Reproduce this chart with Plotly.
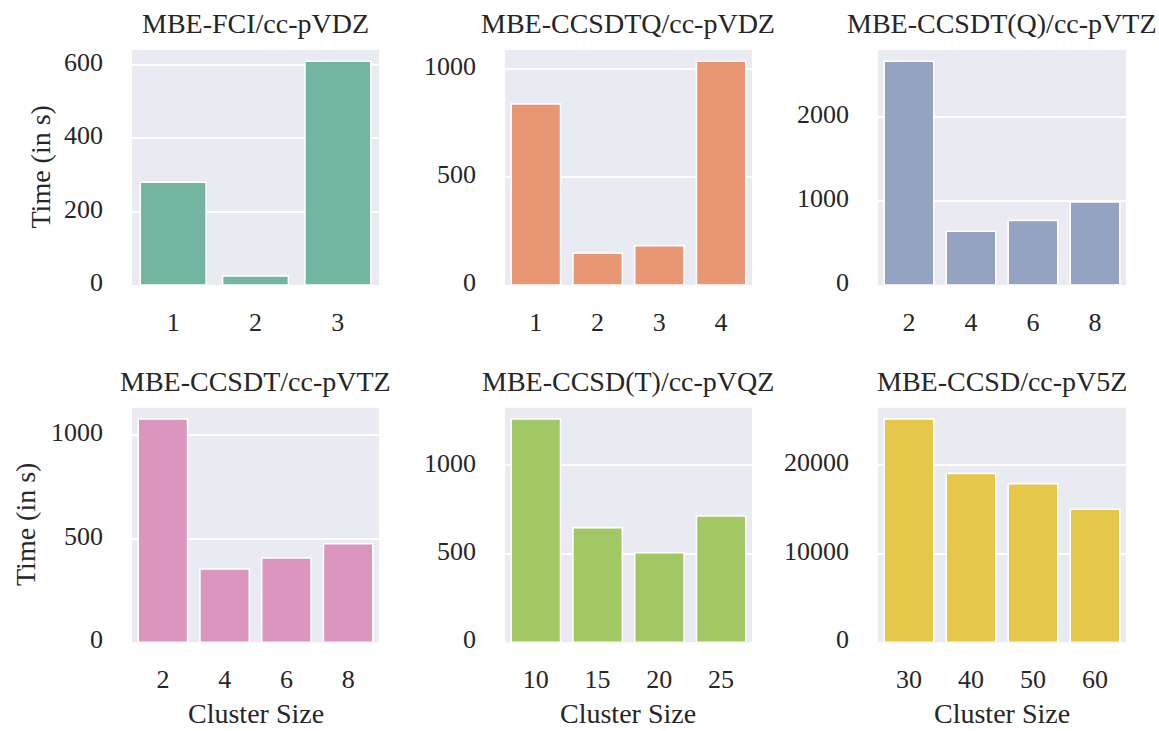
import colorsys
import plotly.graph_objects as go

# ---- data ----
titles = ["MBE-FCI/cc-pVDZ", "MBE-CCSDTQ/cc-pVDZ", "MBE-CCSDT(Q)/cc-pVTZ",
          "MBE-CCSDT/cc-pVTZ", "MBE-CCSD(T)/cc-pVQZ", "MBE-CCSD/cc-pV5Z"]
sizes_fci = ["1", "2", "3"]
time_fci = [280, 25, 610]
sizes_ccsdtq = ["1", "2", "3", "4"]
time_ccsdtq = [840, 148, 182, 1038]
sizes_ccsdt_q = ["2", "4", "6", "8"]
time_ccsdt_q = [2665, 640, 770, 988]
sizes_ccsdt = ["2", "4", "6", "8"]
time_ccsdt = [1077, 354, 407, 475]
sizes_ccsd_t = ["10", "15", "20", "25"]
time_ccsd_t = [1263, 648, 506, 714]
sizes_ccsd = ["30", "40", "50", "60"]
time_ccsd = [25200, 19050, 17900, 15000]
yticks = [[0, 200, 400, 600], [0, 500, 1000], [0, 1000, 2000],
          [0, 500, 1000], [0, 500, 1000], [0, 10000, 20000]]
base_colors = ["#66c2a5", "#fc8d62", "#8da0cb", "#e78ac3", "#a6d854", "#ffd92f"]

xs = [sizes_fci, sizes_ccsdtq, sizes_ccsdt_q, sizes_ccsdt, sizes_ccsd_t, sizes_ccsd]
ys = [time_fci, time_ccsdtq, time_ccsdt_q, time_ccsdt, time_ccsd_t, time_ccsd]


def desat(hexc, prop=0.75):
    r, g, b = [int(hexc[i:i + 2], 16) / 255 for i in (1, 3, 5)]
    h, l, s = colorsys.rgb_to_hls(r, g, b)
    r, g, b = colorsys.hls_to_rgb(h, l, s * prop)
    return "rgb(%d,%d,%d)" % (round(r * 255), round(g * 255), round(b * 255))


W, H = 1159, 731
col_px = [(132, 379), (505, 752), (878, 1126)]
row_px = [(50, 285), (407.7, 642.3)]
FONT = "Liberation Serif"
TXT = "#262626"

fig = go.Figure()
ann = []
layout = {}
for i in range(6):
    r, c = divmod(i, 3)
    n = str(i + 1) if i else ""
    xa, ya = "xaxis" + n, "yaxis" + n
    x0, x1 = col_px[c]
    yt, yb = row_px[r]
    fig.add_trace(go.Bar(
        x=xs[i], y=ys[i], width=0.8,
        marker=dict(color=desat(base_colors[i]), line=dict(color="white", width=1.6)),
        xaxis="x" + n, yaxis="y" + n, showlegend=False))
    ymax = max(ys[i]) * 1.05
    layout[xa] = dict(domain=[x0 / W, x1 / W], anchor="y" + n, type="category",
                      range=[-0.5, len(xs[i]) - 0.5], showgrid=False, automargin=False,
                      ticks="", showline=False, zeroline=False,
                      tickfont=dict(family=FONT, size=26, color=TXT), ticklabelstandoff=19)
    layout[ya] = dict(domain=[1 - yb / H, 1 - yt / H], anchor="x" + n,
                      range=[0, ymax], tickvals=yticks[i], automargin=False,
                      ticktext=[str(v) for v in yticks[i]], showgrid=True,
                      gridcolor="white", gridwidth=1.6, ticks="", showline=False,
                      zeroline=False, tickfont=dict(family=FONT, size=26, color=TXT),
                      ticklabelstandoff=28, ticklabelshift=-3)
    ann.append(dict(text=titles[i], xref="paper", yref="paper",
                    x=(x0 + x1) / 2 / W, y=1 - yt / H, xanchor="center", yanchor="bottom",
                    yshift=9, showarrow=False, font=dict(family=FONT, size=28, color=TXT)))
    if c == 0:
        ann.append(dict(text="Time (in s)", xref="paper", yref="paper",
                        x=(40 if r == 0 else 25) / W, y=1 - (yt + yb) / 2 / H,
                        xanchor="center", yanchor="middle", textangle=-90, showarrow=False,
                        font=dict(family=FONT, size=28, color=TXT)))
    if r == 1:
        ann.append(dict(text="Cluster Size", xref="paper", yref="paper",
                        x=(x0 + x1) / 2 / W, y=0, xanchor="center",
                        yanchor="bottom", showarrow=False,
                        font=dict(family=FONT, size=28, color=TXT)))

fig.update_layout(width=W, height=H, margin=dict(l=0, r=0, t=0, b=0),
                  paper_bgcolor="white", plot_bgcolor="#eaeaf2", bargap=0.2,
                  annotations=ann, **layout)
fig.write_html("out.html")
